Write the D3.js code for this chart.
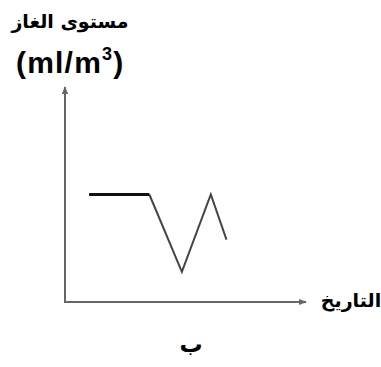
<!DOCTYPE html>
<html lang="ar">
<head>
<meta charset="UTF-8">
<title>مستوى الغاز</title>
<script src="https://d3js.org/d3.v7.min.js"></script>
<style>
  body { margin: 0; background: #fff; }
  svg { display: block; }
</style>
</head>
<body>
<div id="chart"></div>
<script>
  // time steps along the x axis and gas level readings (arbitrary units)
  const dates = [1, 3.5, 4.85, 6.05, 6.7];
  const gasLevel = [5, 5, 1.4, 5, 2.9];
  const yTitle = 'مستوى الغاز';
  const yUnit = '(ml/m';
  const xTitle = 'التاريخ';
  const caption = 'ب';

  const width = 381, height = 367;
  const svg = d3.select('#chart').append('svg')
    .attr('width', width).attr('height', height);

  const x = d3.scaleLinear().domain([0, 10]).range([65, 306]);
  const y = d3.scaleLinear().domain([0, 10]).range([302, 87]);

  const defs = svg.append('defs');
  defs.append('marker')
    .attr('id', 'arr')
    .attr('viewBox', '0 0 10 10')
    .attr('refX', 9).attr('refY', 5)
    .attr('markerWidth', 4).attr('markerHeight', 4)
    .attr('orient', 'auto')
    .append('path').attr('d', 'M0,1 L10,5 L0,9 Z').attr('fill', '#666');

  // axes as plain arrows
  svg.append('line')
    .attr('x1', x(0)).attr('y1', y(0))
    .attr('x2', x(0)).attr('y2', y(10))
    .attr('stroke', '#666').attr('stroke-width', 2)
    .attr('marker-end', 'url(#arr)');
  svg.append('line')
    .attr('x1', x(0) - 1).attr('y1', y(0))
    .attr('x2', x(10)).attr('y2', y(0))
    .attr('stroke', '#666').attr('stroke-width', 2)
    .attr('marker-end', 'url(#arr)');

  const pts = dates.map((d, i) => [d, gasLevel[i]]);
  const line = d3.line().x(d => x(d[0])).y(d => y(d[1]));

  svg.append('path')
    .datum(pts.slice(1))
    .attr('d', line)
    .attr('fill', 'none')
    .attr('stroke', '#444')
    .attr('stroke-width', 2)
    .attr('stroke-linejoin', 'miter');

  // flat start drawn heavier
  svg.append('path')
    .datum(pts.slice(0, 2))
    .attr('d', line)
    .attr('fill', 'none')
    .attr('stroke', '#111')
    .attr('stroke-width', 3);

  // titles
  svg.append('text')
    .attr('x', 70).attr('y', 28)
    .attr('text-anchor', 'middle')
    .attr('font-family', 'DejaVu Sans, sans-serif')
    .attr('font-weight', 'bold')
    .attr('font-size', 19)
    .attr('direction', 'rtl')
    .text(yTitle);

  const unit = svg.append('text')
    .attr('x', 16).attr('y', 73)
    .attr('font-family', 'Liberation Sans, Arial, sans-serif')
    .attr('font-weight', 'bold')
    .attr('font-size', 30)
    .attr('letter-spacing', 1.2);
  unit.append('tspan').text(yUnit);
  unit.append('tspan').attr('font-size', 18).attr('dy', -13).text('3');
  unit.append('tspan').attr('dy', 13).text(')');

  svg.append('text')
    .attr('x', 351).attr('y', 307)
    .attr('text-anchor', 'middle')
    .attr('font-family', 'DejaVu Sans, sans-serif')
    .attr('font-weight', 'bold')
    .attr('font-size', 19)
    .attr('direction', 'rtl')
    .text(xTitle);

  svg.append('text')
    .attr('x', 191).attr('y', 352)
    .attr('text-anchor', 'middle')
    .attr('font-family', 'DejaVu Sans, sans-serif')
    .attr('font-weight', 'bold')
    .attr('font-size', 23)
    .text(caption);
</script>
</body>
</html>
